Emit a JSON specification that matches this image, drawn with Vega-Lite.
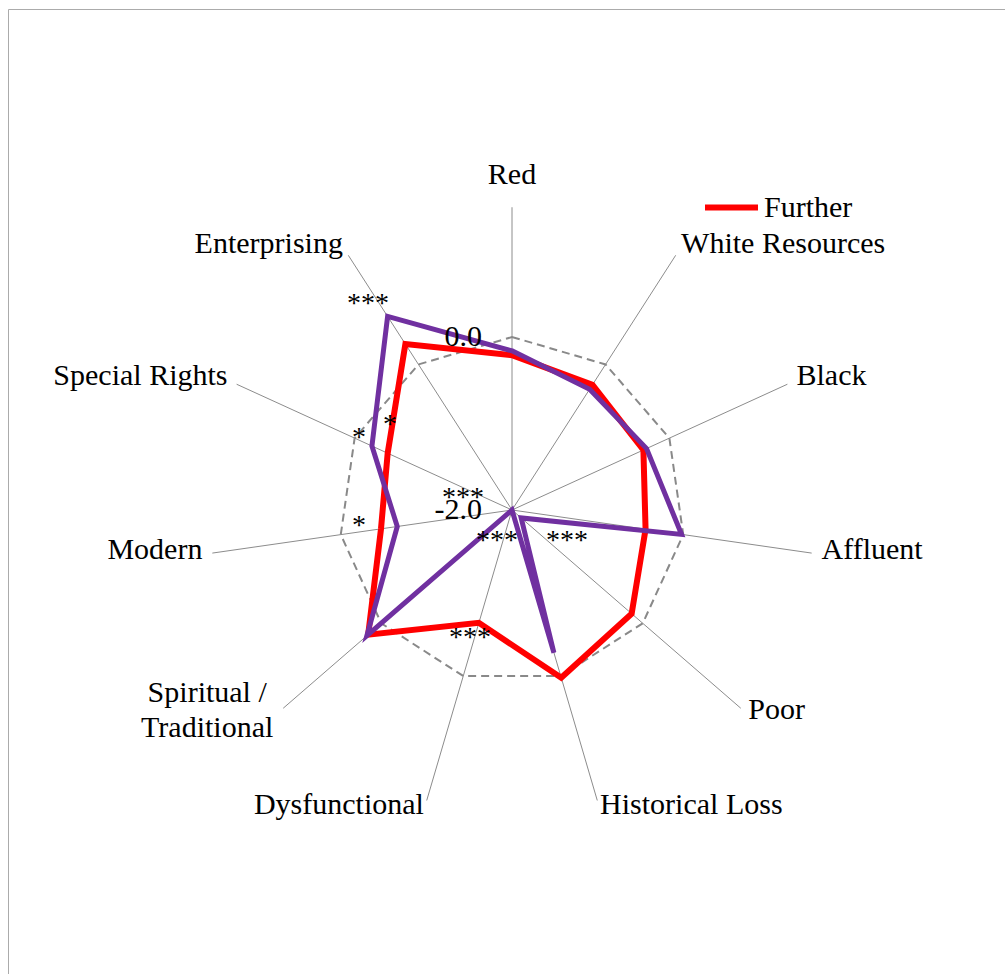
{
  "$schema": "https://vega.github.io/schema/vega-lite/v6.json",
  "width": 997,
  "height": 965,
  "autosize": {"type": "none"},
  "padding": {"left": 8, "top": 9, "right": 0, "bottom": 0},
  "background": "white",
  "config": {
    "view": {"stroke": "#ABABAB", "strokeWidth": 1},
    "font": "Liberation Serif",
    "text": {"font": "Liberation Serif", "fontSize": 30, "color": "#000000"}
  },
  "datasets": {
    "axes": [
      {"axis": "Red", "i": 0},
      {"axis": "White Resources", "i": 1},
      {"axis": "Black", "i": 2},
      {"axis": "Affluent", "i": 3},
      {"axis": "Poor", "i": 4},
      {"axis": "Historical Loss", "i": 5},
      {"axis": "Dysfunctional", "i": 6},
      {"axis": "Spiritual / Traditional", "i": 7},
      {"axis": "Modern", "i": 8},
      {"axis": "Special Rights", "i": 9},
      {"axis": "Enterprising", "i": 10}
    ],
    "scores": [
      {"axis": "Red", "i": 0, "group": "Further", "value": -0.21},
      {"axis": "White Resources", "i": 1, "group": "Further", "value": -0.28},
      {"axis": "Black", "i": 2, "group": "Further", "value": -0.33},
      {"axis": "Affluent", "i": 3, "group": "Further", "value": -0.44},
      {"axis": "Poor", "i": 4, "group": "Further", "value": -0.17},
      {"axis": "Historical Loss", "i": 5, "group": "Further", "value": 0.02},
      {"axis": "Dysfunctional", "i": 6, "group": "Further", "value": -0.64},
      {"axis": "Spiritual / Traditional", "i": 7, "group": "Further", "value": 0.2},
      {"axis": "Modern", "i": 8, "group": "Further", "value": -0.47},
      {"axis": "Special Rights", "i": 9, "group": "Further", "value": -0.42},
      {"axis": "Enterprising", "i": 10, "group": "Further", "value": 0.28},
      {"axis": "Red", "i": 0, "group": "Closer", "value": -0.16},
      {"axis": "White Resources", "i": 1, "group": "Closer", "value": -0.34},
      {"axis": "Black", "i": 2, "group": "Closer", "value": -0.29},
      {"axis": "Affluent", "i": 3, "group": "Closer", "value": -0.02},
      {"axis": "Poor", "i": 4, "group": "Closer", "value": -1.86},
      {"axis": "Historical Loss", "i": 5, "group": "Closer", "value": -0.28},
      {"axis": "Dysfunctional", "i": 6, "group": "Closer", "value": -2.0},
      {"axis": "Spiritual / Traditional", "i": 7, "group": "Closer", "value": 0.22},
      {"axis": "Modern", "i": 8, "group": "Closer", "value": -0.66},
      {"axis": "Special Rights", "i": 9, "group": "Closer", "value": -0.22},
      {"axis": "Enterprising", "i": 10, "group": "Closer", "value": 0.66}
    ],
    "notes": [
      {"note": "***", "px": -1.665, "py": 2.451},
      {"note": "*", "px": -1.769, "py": 0.902},
      {"note": "*", "px": -1.41, "py": 1.052},
      {"note": "*", "px": -1.769, "py": -0.116},
      {"note": "***", "px": -0.566, "py": 0.208},
      {"note": "***", "px": -0.173, "py": -0.289},
      {"note": "***", "px": 0.636, "py": -0.289},
      {"note": "***", "px": -0.486, "py": -1.41}
    ],
    "ticks": [
      {"label": "0.0", "value": 0},
      {"label": "-2.0", "value": -2}
    ]
  },
  "layer": [
    {
      "data": {"name": "axes"},
      "transform": [
        {"calculate": "datum.i * 2 * PI / 11", "as": "t"},
        {"calculate": "0", "as": "px"},
        {"calculate": "0", "as": "py"},
        {"calculate": "3.5 * sin(datum.t)", "as": "ex"},
        {"calculate": "3.5 * cos(datum.t)", "as": "ey"}
      ],
      "mark": {"type": "rule", "color": "#8C8C8C", "strokeWidth": 1},
      "encoding": {
        "x": {"field": "px", "type": "quantitative", "scale": {"domain": [-5.8266, 5.6994], "nice": false, "zero": false}, "axis": null},
        "y": {"field": "py", "type": "quantitative", "scale": {"domain": [-5.3642, 5.7919], "nice": false, "zero": false}, "axis": null},
        "x2": {"field": "ex"},
        "y2": {"field": "ey"}
      }
    },
    {
      "data": {"name": "axes"},
      "transform": [
        {"calculate": "datum.i * 2 * PI / 11", "as": "t"},
        {"calculate": "2 * sin(datum.t)", "as": "px"},
        {"calculate": "2 * cos(datum.t)", "as": "py"}
      ],
      "mark": {"type": "line", "interpolate": "linear-closed", "color": "#898989", "strokeWidth": 2, "strokeDash": [8, 5]},
      "encoding": {
        "x": {"field": "px", "type": "quantitative", "scale": {"domain": [-5.8266, 5.6994], "nice": false, "zero": false}, "axis": null},
        "y": {"field": "py", "type": "quantitative", "scale": {"domain": [-5.3642, 5.7919], "nice": false, "zero": false}, "axis": null},
        "order": {"field": "i", "type": "quantitative"}
      }
    },
    {
      "data": {"name": "scores"},
      "transform": [
        {"filter": "datum.group === 'Further'"},
        {"calculate": "datum.i * 2 * PI / 11", "as": "t"},
        {"calculate": "max(datum.value + 2, 0)", "as": "r"},
        {"calculate": "datum.r * sin(datum.t)", "as": "px"},
        {"calculate": "datum.r * cos(datum.t)", "as": "py"}
      ],
      "mark": {"type": "line", "interpolate": "linear-closed", "strokeWidth": 6},
      "encoding": {
        "x": {"field": "px", "type": "quantitative", "scale": {"domain": [-5.8266, 5.6994], "nice": false, "zero": false}, "axis": null},
        "y": {"field": "py", "type": "quantitative", "scale": {"domain": [-5.3642, 5.7919], "nice": false, "zero": false}, "axis": null},
        "order": {"field": "i", "type": "quantitative"},
        "color": {
          "field": "group",
          "type": "nominal",
          "scale": {"domain": ["Further", "Closer"], "range": ["#FF0000", "#7030A0"]},
          "legend": {
            "values": ["Further"],
            "title": null,
            "orient": "none",
            "legendX": 694,
            "legendY": 169,
            "padding": 0,
            "symbolType": "stroke",
            "symbolSize": 2809,
            "symbolStrokeWidth": 6,
            "labelFont": "Liberation Serif",
            "labelFontSize": 30,
            "labelColor": "#000000",
            "labelOffset": 3
          }
        }
      }
    },
    {
      "data": {"name": "scores"},
      "transform": [
        {"filter": "datum.group === 'Closer'"},
        {"calculate": "datum.i * 2 * PI / 11", "as": "t"},
        {"calculate": "max(datum.value + 2, 0)", "as": "r"},
        {"calculate": "datum.r * sin(datum.t)", "as": "px"},
        {"calculate": "datum.r * cos(datum.t)", "as": "py"}
      ],
      "mark": {"type": "line", "interpolate": "linear-closed", "strokeWidth": 5},
      "encoding": {
        "x": {"field": "px", "type": "quantitative", "scale": {"domain": [-5.8266, 5.6994], "nice": false, "zero": false}, "axis": null},
        "y": {"field": "py", "type": "quantitative", "scale": {"domain": [-5.3642, 5.7919], "nice": false, "zero": false}, "axis": null},
        "order": {"field": "i", "type": "quantitative"},
        "color": {"field": "group", "type": "nominal"}
      }
    },
    {
      "data": {"name": "ticks"},
      "transform": [
        {"calculate": "0", "as": "px"},
        {"calculate": "datum.value + 2", "as": "py"}
      ],
      "mark": {"type": "text", "align": "right", "baseline": "middle", "dx": -30},
      "encoding": {
        "x": {"field": "px", "type": "quantitative", "scale": {"domain": [-5.8266, 5.6994], "nice": false, "zero": false}, "axis": null},
        "y": {"field": "py", "type": "quantitative", "scale": {"domain": [-5.3642, 5.7919], "nice": false, "zero": false}, "axis": null},
        "text": {"field": "label"}
      }
    },
    {
      "data": {"name": "notes"},
      "mark": {"type": "text", "align": "center", "baseline": "middle", "fontSize": 28, "dy": 6},
      "encoding": {
        "x": {"field": "px", "type": "quantitative", "scale": {"domain": [-5.8266, 5.6994], "nice": false, "zero": false}, "axis": null},
        "y": {"field": "py", "type": "quantitative", "scale": {"domain": [-5.3642, 5.7919], "nice": false, "zero": false}, "axis": null},
        "text": {"field": "note"}
      }
    },
    {
      "data": {"name": "axes"},
      "transform": [
        {"filter": "datum.i >= 1 && datum.i <= 5"},
        {"calculate": "datum.i * 2 * PI / 11", "as": "t"},
        {"calculate": "3.5 * sin(datum.t) + 10 * sin(datum.t) / 86.5", "as": "px"},
        {"calculate": "3.5 * cos(datum.t) + (4 + 9 * cos(datum.t)) / 86.5", "as": "py"}
      ],
      "mark": {"type": "text", "align": "left", "baseline": "middle"},
      "encoding": {
        "x": {"field": "px", "type": "quantitative", "scale": {"domain": [-5.8266, 5.6994], "nice": false, "zero": false}, "axis": null},
        "y": {"field": "py", "type": "quantitative", "scale": {"domain": [-5.3642, 5.7919], "nice": false, "zero": false}, "axis": null},
        "text": {"field": "axis"}
      }
    },
    {
      "data": {"name": "axes"},
      "transform": [
        {"filter": "datum.i >= 6 && datum.i != 7"},
        {"calculate": "datum.i * 2 * PI / 11", "as": "t"},
        {"calculate": "3.5 * sin(datum.t) + 10 * sin(datum.t) / 86.5", "as": "px"},
        {"calculate": "3.5 * cos(datum.t) + (4 + 9 * cos(datum.t)) / 86.5", "as": "py"}
      ],
      "mark": {"type": "text", "align": "right", "baseline": "middle"},
      "encoding": {
        "x": {"field": "px", "type": "quantitative", "scale": {"domain": [-5.8266, 5.6994], "nice": false, "zero": false}, "axis": null},
        "y": {"field": "py", "type": "quantitative", "scale": {"domain": [-5.3642, 5.7919], "nice": false, "zero": false}, "axis": null},
        "text": {"field": "axis"}
      }
    },
    {
      "data": {"name": "axes"},
      "transform": [
        {"filter": "datum.i == 0"},
        {"calculate": "0", "as": "px"},
        {"calculate": "3.5", "as": "py"}
      ],
      "mark": {"type": "text", "align": "center", "baseline": "middle", "dy": -32},
      "encoding": {
        "x": {"field": "px", "type": "quantitative", "scale": {"domain": [-5.8266, 5.6994], "nice": false, "zero": false}, "axis": null},
        "y": {"field": "py", "type": "quantitative", "scale": {"domain": [-5.3642, 5.7919], "nice": false, "zero": false}, "axis": null},
        "text": {"field": "axis"}
      }
    },
    {
      "data": {"name": "axes"},
      "transform": [
        {"filter": "datum.i == 7"},
        {"calculate": "datum.i * 2 * PI / 11", "as": "t"},
        {"calculate": "3.5 * sin(datum.t)", "as": "px"},
        {"calculate": "3.5 * cos(datum.t)", "as": "py"},
        {"calculate": "split(datum.axis, ' / ')", "as": "parts"},
        {"calculate": "[datum.parts[0] + ' /', datum.parts[1]]", "as": "lines"}
      ],
      "mark": {"type": "text", "align": "center", "baseline": "middle", "dx": -76, "dy": -15, "lineHeight": 35},
      "encoding": {
        "x": {"field": "px", "type": "quantitative", "scale": {"domain": [-5.8266, 5.6994], "nice": false, "zero": false}, "axis": null},
        "y": {"field": "py", "type": "quantitative", "scale": {"domain": [-5.3642, 5.7919], "nice": false, "zero": false}, "axis": null},
        "text": {"field": "lines"}
      }
    }
  ]
}
